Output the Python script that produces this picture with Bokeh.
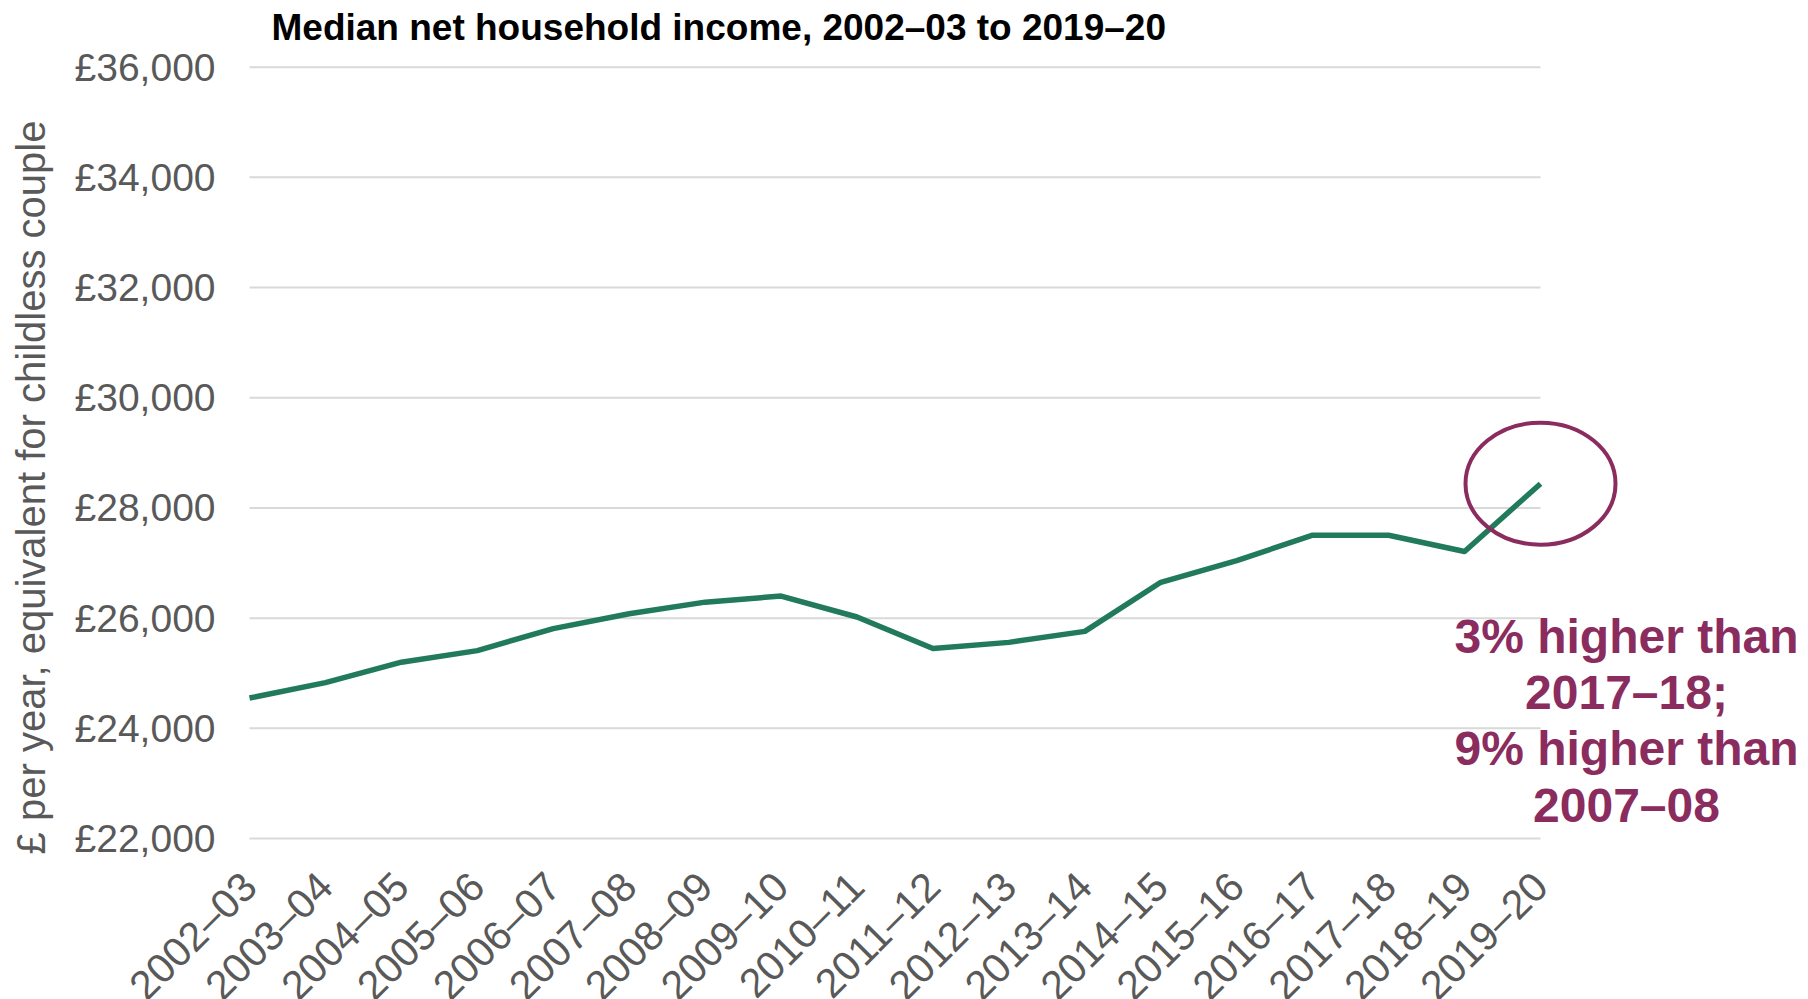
import math
from bokeh.plotting import figure
from bokeh.models import Range1d, FixedTicker, Label
from bokeh.embed import file_html
from bokeh.resources import INLINE

# ---- data ----
years = ["2002–03", "2003–04", "2004–05", "2005–06", "2006–07", "2007–08",
         "2008–09", "2009–10", "2010–11", "2011–12", "2012–13", "2013–14",
         "2014–15", "2015–16", "2016–17", "2017–18", "2018–19", "2019–20"]
income = [24550, 24830, 25200, 25410, 25810, 26080, 26290, 26400, 26020,
          25450, 25560, 25760, 26650, 27045, 27505, 27505, 27210, 28440]
y_ticks = [22000, 24000, 26000, 28000, 30000, 32000, 34000, 36000]
y_tick_labels = ["£22,000", "£24,000", "£26,000", "£28,000", "£30,000",
                 "£32,000", "£34,000", "£36,000"]
title_text = "Median net household income, 2002–03 to 2019–20"
y_label_text = "£ per year, equivalent for childless couple"
note_text = "3% higher than\n2017–18;\n9% higher than\n2007–08"

FONT = "Liberation Sans"
GREY = "#595959"
GREEN = "#217a5b"
PLUM = "#8b2c5f"

W, H = 1808, 999
xs = list(range(len(years)))
last = len(years) - 1

# The frame covers the whole canvas; axes sit at fixed data locations.
p = figure(width=W, height=H, output_backend="svg", toolbar_location=None,
           x_range=Range1d(-3.279, 20.529), y_range=Range1d(19078, 37210),
           min_border_left=0, min_border_right=0,
           min_border_top=0, min_border_bottom=0)
p.outline_line_color = None
p.xgrid.visible = False
p.ygrid.visible = False
p.background_fill_color = "white"
p.border_fill_color = "white"

# gridlines only across the category span
p.segment(x0=[0] * len(y_ticks), x1=[last] * len(y_ticks), y0=y_ticks, y1=y_ticks,
          line_color="#d9d9d9", line_width=2)

# data line
p.line(x=xs, y=income, line_color=GREEN, line_width=5.5, line_join="round")

# highlight ellipse around last point
p.ellipse(x=[last], y=[income[-1]], width=150, height=122,
          width_units="screen", height_units="screen",
          fill_color=None, line_color=PLUM, line_width=4)

# axes
xa = p.xaxis[0]
xa.fixed_location = y_ticks[0]
xa.ticker = FixedTicker(ticks=xs)
xa.major_label_overrides = {i: t for i, t in enumerate(years)}
xa.major_label_orientation = math.pi / 4
xa.axis_line_color = None
xa.major_tick_line_color = None
xa.minor_tick_line_color = None
xa.major_label_text_font = FONT
xa.major_label_text_font_size = "41px"
xa.major_label_text_color = GREY
xa.major_label_standoff = 35

ya = p.yaxis[0]
ya.fixed_location = 0
ya.ticker = FixedTicker(ticks=y_ticks)
ya.major_label_overrides = dict(zip(y_ticks, y_tick_labels))
ya.axis_line_color = None
ya.major_tick_line_color = None
ya.minor_tick_line_color = None
ya.major_label_text_font = FONT
ya.major_label_text_font_size = "39px"
ya.major_label_text_color = GREY
ya.major_label_standoff = 28

# chart title
p.add_layout(Label(x=271, y=H - 27, x_units="screen", y_units="screen",
                   text=title_text, text_font=FONT, text_font_size="37px",
                   text_font_style="bold", text_color="black",
                   text_align="left", text_baseline="middle"))

# y axis title
p.add_layout(Label(x=30, y=H - 487, x_units="screen", y_units="screen",
                   angle=math.pi / 2, text=y_label_text, text_font=FONT,
                   text_font_size="40px", text_color=GREY,
                   text_align="center", text_baseline="middle"))

# annotation
p.add_layout(Label(x=last, y=24135, x_offset=86, text=note_text,
                   text_font=FONT, text_font_size="48px", text_font_style="bold",
                   text_color=PLUM, text_align="center", text_baseline="middle",
                   text_line_height=1.06))

open("out.html", "w").write(file_html(p, INLINE))
